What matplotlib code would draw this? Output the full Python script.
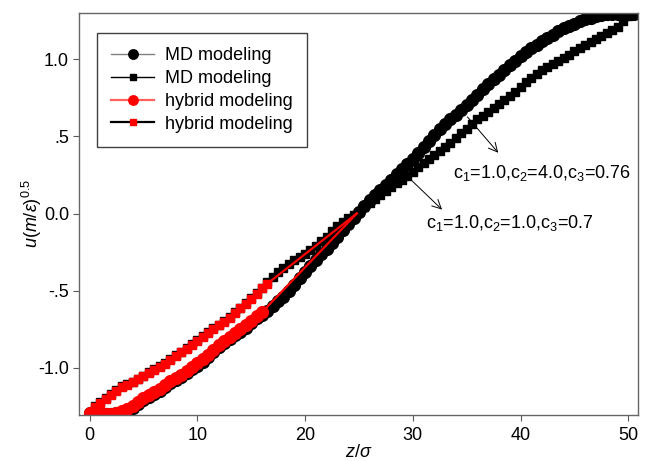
import matplotlib
matplotlib.use("Agg")
import matplotlib.pyplot as plt

plt.rcParams["font.family"] = ["Liberation Sans", "DejaVu Sans"]
plt.rcParams["mathtext.fontset"] = "custom"
plt.rcParams["mathtext.rm"] = "Liberation Sans"
plt.rcParams["mathtext.it"] = "Liberation Sans:italic"
plt.rcParams["font.size"] = 13

# MD runs, sampled every 0.5 sigma
z_md = [0, 0.5, 1, 1.5, 2, 2.5, 3, 3.5, 4, 4.5, 5, 5.5, 6, 6.5, 7, 7.5, 8, 8.5, 9, 9.5,
        10, 10.5, 11, 11.5, 12, 12.5, 13, 13.5, 14, 14.5, 15, 15.5, 16, 16.5, 17, 17.5,
        18, 18.5, 19, 19.5, 20, 20.5, 21, 21.5, 22, 22.5, 23, 23.5, 24, 24.5, 25, 25.5,
        26, 26.5, 27, 27.5, 28, 28.5, 29, 29.5, 30, 30.5, 31, 31.5, 32, 32.5, 33, 33.5,
        34, 34.5, 35, 35.5, 36, 36.5, 37, 37.5, 38, 38.5, 39, 39.5, 40, 40.5, 41, 41.5,
        42, 42.5, 43, 43.5, 44, 44.5, 45, 45.5, 46, 46.5, 47, 47.5, 48, 48.5, 49, 49.5,
        50, 50.5]
u_md_c = [-1.29, -1.295, -1.30, -1.30, -1.30, -1.295, -1.29, -1.28, -1.26, -1.235,
          -1.21, -1.19, -1.17, -1.15, -1.125, -1.10, -1.08, -1.06, -1.035, -1.01,
          -0.985, -0.96, -0.93, -0.90, -0.865, -0.84, -0.815, -0.79, -0.765, -0.74,
          -0.71, -0.68, -0.655, -0.63, -0.60, -0.57, -0.54, -0.50, -0.46, -0.42,
          -0.38, -0.34, -0.30, -0.265, -0.23, -0.19, -0.15, -0.11, -0.07, -0.03,
          0.01, 0.05, 0.09, 0.12, 0.15, 0.185, 0.22, 0.255, 0.29, 0.32,
          0.355, 0.39, 0.43, 0.47, 0.51, 0.545, 0.58, 0.61, 0.64, 0.67,
          0.70, 0.735, 0.77, 0.805, 0.84, 0.87, 0.90, 0.93, 0.96, 0.99,
          1.02, 1.045, 1.07, 1.095, 1.12, 1.14, 1.16, 1.18, 1.20, 1.215,
          1.23, 1.245, 1.26, 1.27, 1.28, 1.285, 1.29, 1.293, 1.295, 1.295,
          1.293, 1.29]
u_md_s = [-1.29, -1.25, -1.22, -1.195, -1.17, -1.145, -1.12, -1.105, -1.09, -1.07,
          -1.05, -1.03, -1.01, -0.99, -0.97, -0.945, -0.92, -0.895, -0.87, -0.845,
          -0.82, -0.795, -0.77, -0.745, -0.72, -0.695, -0.67, -0.64, -0.61, -0.58,
          -0.55, -0.515, -0.48, -0.445, -0.41, -0.38, -0.35, -0.325, -0.30, -0.28,
          -0.26, -0.235, -0.21, -0.18, -0.15, -0.115, -0.08, -0.055, -0.03, -0.01,
          0.01, 0.04, 0.07, 0.095, 0.12, 0.145, 0.17, 0.195, 0.22, 0.245,
          0.27, 0.30, 0.33, 0.355, 0.38, 0.405, 0.43, 0.46, 0.49, 0.52,
          0.55, 0.58, 0.61, 0.635, 0.66, 0.685, 0.71, 0.735, 0.76, 0.79,
          0.82, 0.85, 0.88, 0.905, 0.93, 0.95, 0.97, 0.99, 1.01, 1.03,
          1.05, 1.07, 1.09, 1.11, 1.13, 1.15, 1.17, 1.19, 1.21, 1.25,
          1.28, 1.29]

# hybrid runs: particle region only up to ~16 sigma, then the end point
z_hy_c = [0, 0.5, 1, 1.5, 2, 2.5, 3, 3.5, 4, 4.5, 5, 5.5, 6, 6.5, 7, 7.5, 8, 8.5,
          9, 9.5, 10, 10.5, 11, 11.5, 12, 12.5, 13, 13.5, 14, 14.5, 15, 15.5, 16, 24.8]
u_hy_c = [-1.29, -1.295, -1.30, -1.30, -1.30, -1.29, -1.28, -1.265, -1.245, -1.22,
          -1.195, -1.175, -1.155, -1.135, -1.11, -1.085, -1.065, -1.045, -1.02, -0.995,
          -0.97, -0.945, -0.915, -0.885, -0.85, -0.825, -0.80, -0.775, -0.75, -0.725,
          -0.695, -0.665, -0.64, 0.0]
z_hy_s = [0, 0.5, 1, 1.5, 2, 2.5, 3, 3.5, 4, 4.5, 5, 5.5, 6, 6.5, 7, 7.5, 8, 8.5,
          9, 9.5, 10, 10.5, 11, 11.5, 12, 12.5, 13, 13.5, 14, 14.5, 15, 15.5, 16, 16.5,
          24.8]
u_hy_s = [-1.29, -1.255, -1.225, -1.20, -1.175, -1.15, -1.125, -1.11, -1.095, -1.075,
          -1.055, -1.035, -1.015, -0.995, -0.975, -0.95, -0.925, -0.90, -0.875, -0.85,
          -0.825, -0.80, -0.775, -0.75, -0.725, -0.70, -0.675, -0.645, -0.615, -0.585,
          -0.555, -0.52, -0.485, -0.455, 0.0]

y_ticks = [-1.0, -0.5, 0.0, 0.5, 1.0]
y_ticklabels = ["-1.0", "-.5", "0.0", ".5", "1.0"]
x_ticks = [0, 10, 20, 30, 40, 50]

fig = plt.figure(figsize=(6.51, 4.61), dpi=100)
ax = fig.add_axes([0.121, 0.100, 0.859, 0.872])

ax.plot(z_md, u_md_c, "-", color="0.5", lw=1, marker="o", ms=8.5,
        mfc="black", mec="black", label="MD modeling")
ax.plot(z_md, u_md_s, "-", color="black", lw=1, marker="s", ms=5.5,
        mfc="black", mec="black", label="MD modeling")
# last hybrid point only closes the line, no marker drawn there
ax.plot(z_hy_c, u_hy_c, "-", color="red", lw=1.6, marker="o", ms=8.5,
        mfc="red", mec="red", markevery=slice(0, -1), label="hybrid modeling")
ax.plot(z_hy_s, u_hy_s, "-", color="red", lw=1.6, marker="s", ms=5.5,
        mfc="red", mec="red", markevery=slice(0, -1), label="hybrid modeling")

ax.set_xlim(-1, 50.9)
ax.set_ylim(-1.305, 1.3)
ax.set_xticks(x_ticks)
ax.set_yticks(y_ticks)
ax.set_yticklabels(y_ticklabels)
ax.tick_params(direction="out", length=4, width=0.8, color="0.35", labelsize=13, pad=3)
ax.tick_params(axis="x", pad=5)
for s in ax.spines.values():
    s.set_color("0.4")
    s.set_linewidth(1)

ax.set_xlabel(r"$z/\sigma$", fontsize=13, labelpad=0)
ax.set_ylabel(r"$u(m/\varepsilon)^{0.5}$", fontsize=13, labelpad=-4)

arrow = dict(arrowstyle="->", lw=0.7, color="black", mutation_scale=16)
ax.annotate("", xy=(32.9, 0.013), xytext=(29.6, 0.234), arrowprops=arrow)
ax.annotate("", xy=(38.1, 0.38), xytext=(34.9, 0.64), arrowprops=arrow)
ax.text(31.2, -0.06, r"c$_1$=1.0,c$_2$=1.0,c$_3$=0.7", fontsize=13, va="center")
ax.text(33.75, 0.26, r"c$_1$=1.0,c$_2$=4.0,c$_3$=0.76", fontsize=13, va="center")

leg = ax.legend(loc="upper left", bbox_to_anchor=(0.032, 0.95), borderaxespad=0,
                fancybox=False, framealpha=1, edgecolor="0.25", fontsize=13,
                handlelength=2.4, handletextpad=0.6, labelspacing=0.32,
                borderpad=0.8, markerscale=0.8)
leg.get_frame().set_linewidth(1)
hs = leg.legend_handles
hs[3].set_color("black")
hs[2].set_color("#ff6060")

fig.savefig("out.png", dpi=100)
